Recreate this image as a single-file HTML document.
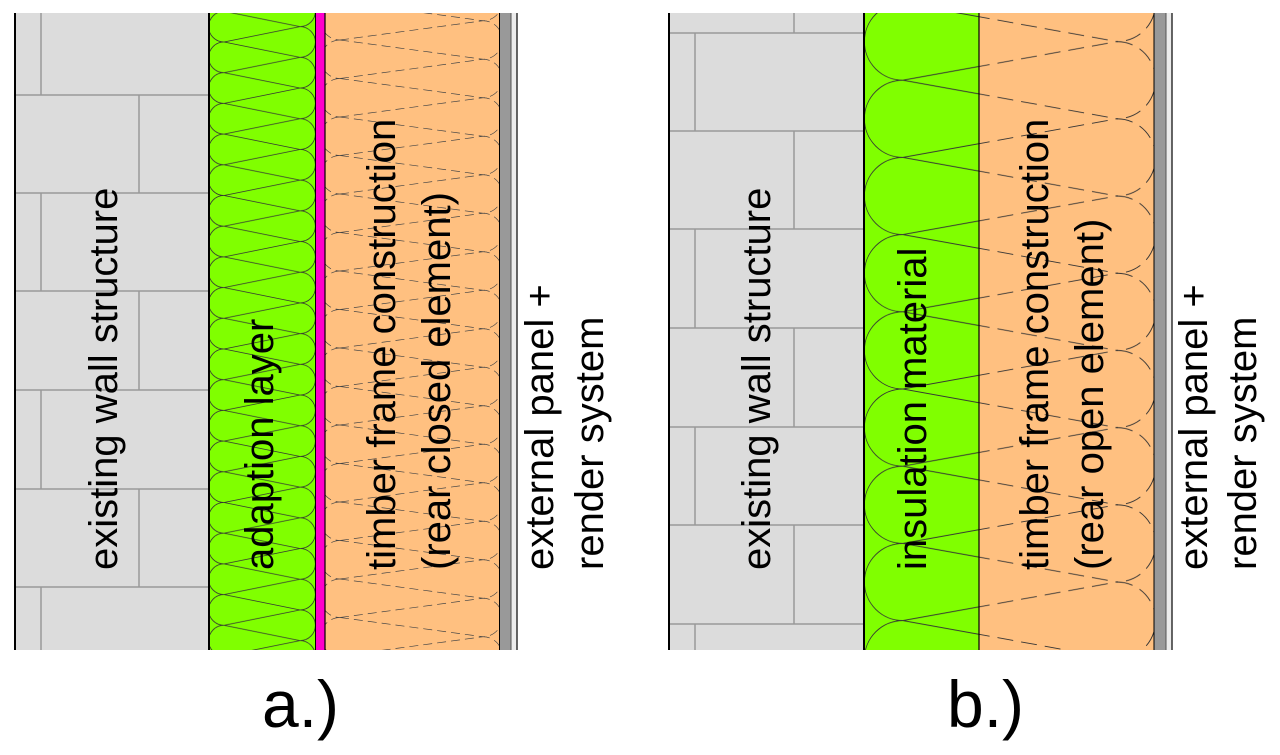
<!DOCTYPE html>
<html><head><meta charset="utf-8"><style>
html,body{margin:0;padding:0;background:#fff;}
svg{display:block;}
text{font-family:"Liberation Sans",Arial,sans-serif;fill:#000;}
</style></head><body>
<svg width="1280" height="755" viewBox="0 0 1280 755" xmlns="http://www.w3.org/2000/svg">
<defs>
  <pattern id="pga" patternUnits="userSpaceOnUse" x="0" y="11.3" width="1280" height="30.7">
    <g fill="none" stroke="#333" stroke-width="0.8">
      <path d="M224,0 A15.35,15.35 0 0 0 224,30.7"/>
      <path d="M224,0 L300,15.35 M224,30.7 L300,15.35"/>
      <path d="M315.35,0 A15.35,15.35 0 0 1 300,15.35 A15.35,15.35 0 0 1 315.35,30.7"/>
    </g>
  </pattern>
  <pattern id="poa" patternUnits="userSpaceOnUse" x="0" y="1.5" width="1280" height="38.5">
    <g fill="none" stroke="#444" stroke-width="0.7" stroke-dasharray="9,5">
      <path d="M340,0 A19.25,19.25 0 0 0 340,38.5"/>
      <path d="M340,0 L483,19.25 M340,38.5 L483,19.25"/>
      <path d="M502.25,0 A19.25,19.25 0 0 1 483,19.25 A19.25,19.25 0 0 1 502.25,38.5"/>
    </g>
  </pattern>
  <pattern id="pgb" patternUnits="userSpaceOnUse" x="0" y="3" width="1280" height="77.2">
    <g fill="none" stroke="#333" stroke-width="0.9">
      <path d="M903,0 A38.6,38.6 0 0 0 903,77.2"/>
      <path d="M903,0 L1117,38.6 M903,77.2 L1117,38.6"/>
    </g>
  </pattern>
  <pattern id="pob" patternUnits="userSpaceOnUse" x="0" y="3" width="1280" height="77.2">
    <g fill="none" stroke="#333" stroke-width="0.9" stroke-dasharray="16,8">
      <path d="M903,0 L1117,38.6 M903,77.2 L1117,38.6"/>
      <path d="M1117,-38.6 A38.6,38.6 0 0 1 1117,38.6"/>
      <path d="M1117,38.6 A38.6,38.6 0 0 1 1117,115.8"/>
    </g>
  </pattern>
</defs>

<rect x="15" y="13" width="194" height="637" fill="#dcdcdc"/>
<g stroke="#999" stroke-width="1.5">
  <line x1="15" y1="95" x2="209" y2="95"/>
  <line x1="15" y1="193" x2="209" y2="193"/>
  <line x1="15" y1="291" x2="209" y2="291"/>
  <line x1="15" y1="390" x2="209" y2="390"/>
  <line x1="15" y1="489" x2="209" y2="489"/>
  <line x1="15" y1="587" x2="209" y2="587"/>
  <line x1="41" y1="13" x2="41" y2="95"/>
  <line x1="139" y1="95" x2="139" y2="193"/>
  <line x1="41" y1="193" x2="41" y2="291"/>
  <line x1="139" y1="291" x2="139" y2="390"/>
  <line x1="41" y1="390" x2="41" y2="489"/>
  <line x1="139" y1="489" x2="139" y2="587"/>
  <line x1="41" y1="587" x2="41" y2="650"/>
</g>
<rect x="209" y="13" width="106" height="637" fill="#80ff00"/>
<rect x="209" y="13" width="106" height="637" fill="url(#pga)"/>
<rect x="315" y="13" width="10" height="637" fill="#ff00cc"/>
<rect x="325" y="13" width="174" height="637" fill="#ffc080"/>
<rect x="325" y="13" width="174" height="637" fill="url(#poa)"/>
<rect x="499" y="13" width="12" height="637" fill="#999"/>
<rect x="511" y="13" width="6" height="637" fill="#ececec"/>
<g stroke="#000">
  <line x1="15" y1="13" x2="15" y2="650" stroke-width="2"/>
  <line x1="209" y1="13" x2="209" y2="650" stroke-width="2"/>
  <line x1="315.5" y1="13" x2="315.5" y2="650" stroke-width="1"/>
  <line x1="325" y1="13" x2="325" y2="650" stroke-width="1.2"/>
  <line x1="499.5" y1="13" x2="499.5" y2="650" stroke-width="1"/>
  <line x1="511" y1="13" x2="511" y2="650" stroke-width="1" stroke="#555"/>
  <line x1="517" y1="13" x2="517" y2="650" stroke-width="1.5" stroke="#333"/>
</g>

<rect x="669" y="13" width="195" height="637" fill="#dcdcdc"/>
<g stroke="#999" stroke-width="1.5">
  <line x1="669" y1="33" x2="864" y2="33"/>
  <line x1="669" y1="131" x2="864" y2="131"/>
  <line x1="669" y1="229" x2="864" y2="229"/>
  <line x1="669" y1="328" x2="864" y2="328"/>
  <line x1="669" y1="427" x2="864" y2="427"/>
  <line x1="669" y1="525" x2="864" y2="525"/>
  <line x1="669" y1="624" x2="864" y2="624"/>
  <line x1="794" y1="13" x2="794" y2="33"/>
  <line x1="695" y1="33" x2="695" y2="131"/>
  <line x1="794" y1="131" x2="794" y2="229"/>
  <line x1="695" y1="229" x2="695" y2="328"/>
  <line x1="794" y1="328" x2="794" y2="427"/>
  <line x1="695" y1="427" x2="695" y2="525"/>
  <line x1="794" y1="525" x2="794" y2="624"/>
  <line x1="695" y1="624" x2="695" y2="650"/>
</g>
<rect x="864" y="13" width="115" height="637" fill="#80ff00"/>
<rect x="864" y="13" width="115" height="637" fill="url(#pgb)"/>
<rect x="979" y="13" width="175" height="637" fill="#ffc080"/>
<rect x="979" y="13" width="175" height="637" fill="url(#pob)"/>
<rect x="1154" y="13" width="12" height="637" fill="#999"/>
<rect x="1166" y="13" width="6" height="637" fill="#ececec"/>
<g stroke="#000">
  <line x1="669" y1="13" x2="669" y2="650" stroke-width="2"/>
  <line x1="864" y1="13" x2="864" y2="650" stroke-width="2"/>
  <line x1="979" y1="13" x2="979" y2="650" stroke-width="1.2"/>
  <line x1="1154" y1="13" x2="1154" y2="650" stroke-width="1"/>
  <line x1="1166" y1="13" x2="1166" y2="650" stroke-width="1" stroke="#555"/>
  <line x1="1172" y1="13" x2="1172" y2="650" stroke-width="1.5" stroke="#333"/>
</g>

<g font-size="40">
  <text transform="translate(117,570) rotate(-90)">existing wall structure</text>
  <text transform="translate(273,570) rotate(-90)">adaption layer</text>
  <text transform="translate(395,570) rotate(-90)">timber frame construction</text>
  <text transform="translate(450,570) rotate(-90)">(rear closed element)</text>
  <text transform="translate(553,570) rotate(-90)">external panel +</text>
  <text transform="translate(603,570) rotate(-90)">render system</text>

  <text transform="translate(770,570) rotate(-90)">existing wall structure</text>
  <text transform="translate(926,570) rotate(-90)">insulation material</text>
  <text transform="translate(1048,570) rotate(-90)">timber frame construction</text>
  <text transform="translate(1103,570) rotate(-90)">(rear open element)</text>
  <text transform="translate(1207,570) rotate(-90)">external panel +</text>
  <text transform="translate(1256,570) rotate(-90)">render system</text>
</g>
<text x="262" y="727" font-size="66">a.)</text>
<text x="947" y="727" font-size="66">b.)</text>
</svg>
</body></html>
